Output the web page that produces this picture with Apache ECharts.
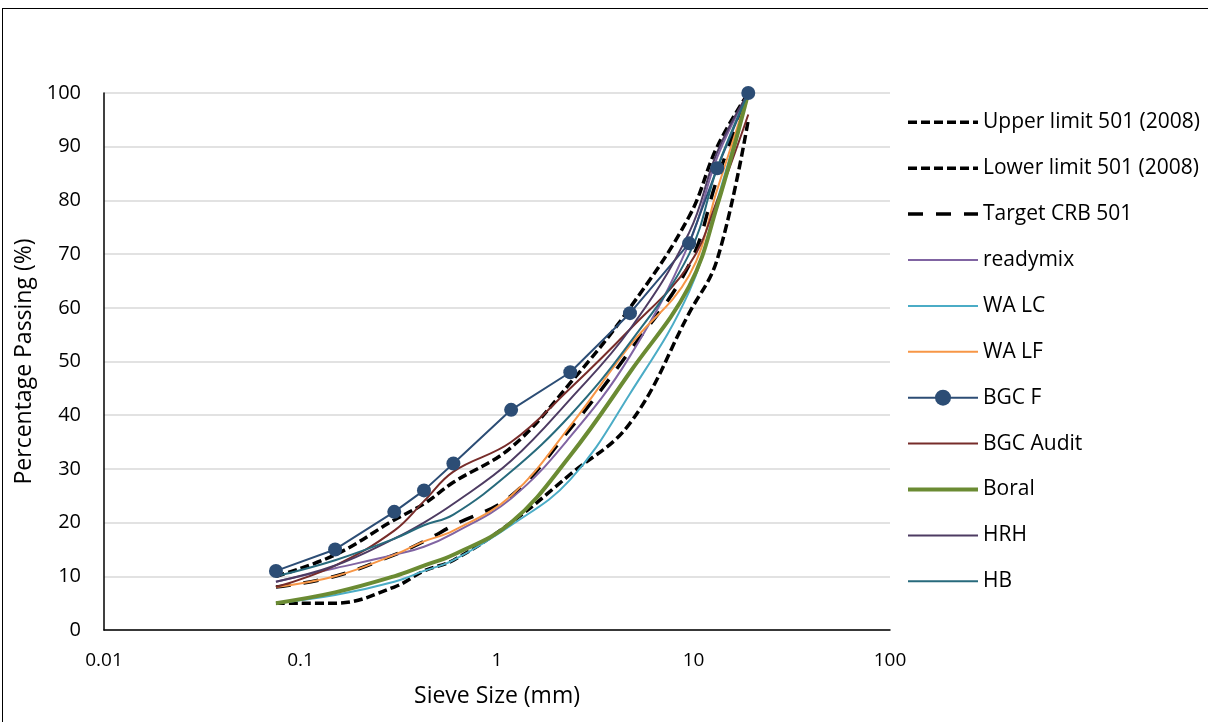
<!DOCTYPE html>
<html>
<head>
<meta charset="utf-8">
<script src="https://cdn.jsdelivr.net/npm/echarts@6/dist/echarts.min.js"></script>
<style>
  html, body { margin: 0; padding: 0; background: #fff; overflow: hidden; }
  #frame { position: absolute; left: 2px; top: 8px; width: 1220px; height: 730px; border: 1.5px solid #000; }
  #chart { position: absolute; left: 0; top: 0; width: 1208px; height: 722px; }
</style>
</head>
<body>
<div id="frame"></div>
<div id="chart"></div>
<script>
// sieve sizes (mm)
const sizes = [0.075, 0.15, 0.3, 0.425, 0.6, 1.18, 2.36, 4.75, 9.5, 13.2, 19];

const upperLimit = [10, 14, 20.5, 23.5, 27.5, 34, 46, 60, 77, 90, 100];
const lowerLimit = [5, 5, 8, 11, 13, 20, 29, 38.5, 59, 69, 95];
const target = [8, 10, 14, 16.5, 19.5, 25, 37.5, 52, 68, 84, 100];
const readymix = [9, 11.5, 14, 15.5, 18, 24.5, 36, 51, 72, 88, 100];
const waLC = [5, 6.5, 9, 11, 13, 19.5, 28, 44, 63, 80, 100];
const waLF = [8, 10, 14, 16.5, 18.5, 25, 38, 53, 66, 82, 100];
const bgcF = [11, 15, 22, 26, 31, 41, 48, 59, 72, 86, 100];
const bgcAudit = [8, 12, 18.5, 24, 29.5, 35, 45, 56, 68, 80, 96];
const boral = [5, 7, 10, 12, 14, 20, 32.5, 48, 64, 79, 100];
const hrh = [9, 12, 17, 20, 23.5, 31.5, 43, 56, 74, 89, 100];
const hb = [10, 13, 17, 19.5, 21.5, 29.5, 40, 53.5, 70, 86, 100];

const xTicks = ['0.01', '0.1', '1', '10', '100'];

const pairs = vals => sizes.map((s, i) => [s, vals[i]]);

const font = '"Open Sans", sans-serif';

function lineSeries(name, vals, color, width, type, extra) {
    return Object.assign({
        name: name,
        type: 'line',
        data: pairs(vals),
        smooth: 0.4,
        symbol: 'none',
        lineStyle: { color: color, width: width, type: type },
        itemStyle: { color: color },
        emphasis: { disabled: true }
    }, extra || {});
}

const series = [
    lineSeries('Upper limit 501 (2008)', upperLimit, '#000', 3.5, [9, 4]),
    lineSeries('Lower limit 501 (2008)', lowerLimit, '#000', 3.5, [9, 4]),
    lineSeries('Target CRB 501', target, '#000', 3.5, [15, 13]),
    lineSeries('readymix', readymix, '#8064A2', 2, 'solid'),
    lineSeries('WA LC', waLC, '#4BACC6', 2, 'solid'),
    lineSeries('WA LF', waLF, '#F79646', 2, 'solid'),
    lineSeries('BGC F', bgcF, '#2C4D75', 2, 'solid', {
        smooth: false, symbol: 'circle', symbolSize: 14
    }),
    lineSeries('BGC Audit', bgcAudit, '#772C2A', 2, 'solid'),
    lineSeries('Boral', boral, '#6B8B33', 4, 'solid'),
    lineSeries('HRH', hrh, '#4D3B62', 2, 'solid'),
    lineSeries('HB', hb, '#276A7C', 2, 'solid')
];

// legend: only BGC F keeps its marker, line widths as in the plot
const legendData = series.map(s => ({
    name: s.name,
    itemStyle: s.symbol === 'none' ? { opacity: 0 } : undefined,
    lineStyle: { width: s.lineStyle.width, type: s.lineStyle.type, color: s.lineStyle.color }
}));

const chart = echarts.init(document.getElementById('chart'));
chart.setOption({
    animation: false,
    textStyle: { fontFamily: font },
    grid: { left: 104, right: 318, top: 93, bottom: 92 },
    legend: {
        orient: 'vertical',
        left: 901,
        top: 106.8,
        itemWidth: 70,
        itemHeight: 20,
        itemGap: 24.9,
        textStyle: { fontSize: 21, color: '#000', fontFamily: font, lineHeight: 20 },
        data: legendData
    },
    xAxis: {
        type: 'log',
        logBase: 10,
        min: 0.01,
        max: 100,
        name: 'Sieve Size (mm)',
        nameLocation: 'middle',
        nameGap: 55,
        nameTextStyle: { fontSize: 23, color: '#000' },
        axisLine: { lineStyle: { color: '#000', width: 1.5 } },
        axisTick: { show: false },
        splitLine: { show: false },
        minorTick: { show: false },
        axisLabel: {
            fontSize: 19, color: '#000', margin: 21,
            formatter: v => {
                const k = Math.round(Math.log10(v)) + 2;
                return xTicks[k] !== undefined ? xTicks[k] : '';
            }
        }
    },
    yAxis: {
        type: 'value',
        min: 0,
        max: 100,
        interval: 10,
        name: 'Percentage Passing (%)',
        nameLocation: 'middle',
        nameGap: 63,
        nameTextStyle: { fontSize: 23, color: '#000' },
        axisLine: { show: true, lineStyle: { color: '#000', width: 1.5 } },
        axisTick: { show: false },
        splitLine: { lineStyle: { color: '#d9d9d9', width: 1.5 } },
        axisLabel: { fontSize: 20, color: '#000', margin: 23 }
    },
    series: series
});
</script>
</body>
</html>
